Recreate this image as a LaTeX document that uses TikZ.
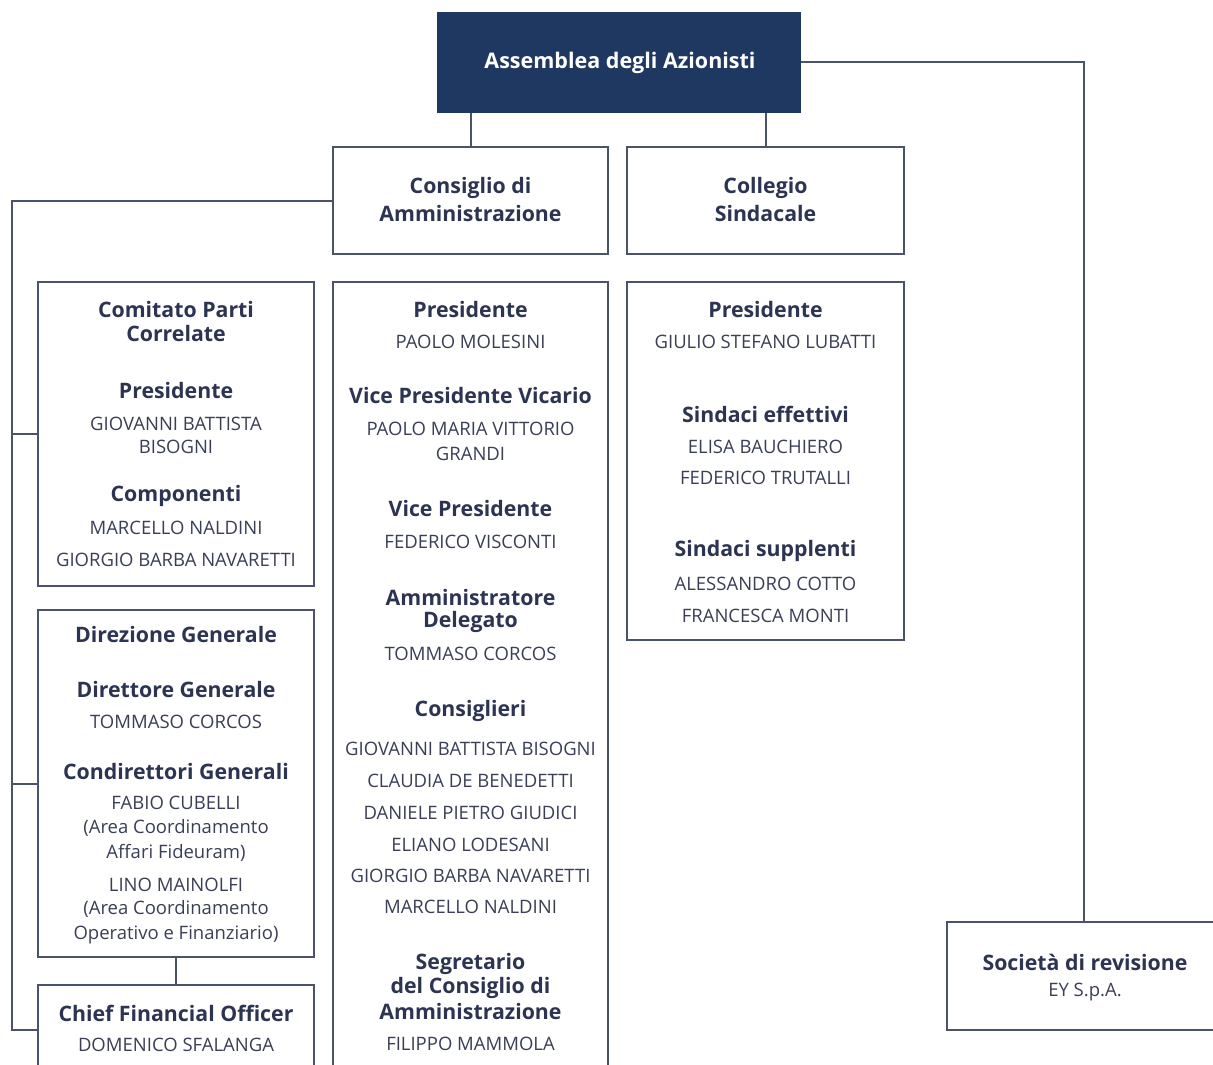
\documentclass[tikz,border=0pt]{standalone}
\usepackage{fontspec}
\setmainfont{Open Sans}
\definecolor{navy}{HTML}{1E3862}
\definecolor{linec}{HTML}{4C526B}
\definecolor{headc}{HTML}{2C3452}
\definecolor{namec}{HTML}{3A3F56}
\begin{document}
\begin{tikzpicture}[x=1pt,y=-1pt,
  box/.style={draw=linec,line width=2pt,fill=white,inner sep=0pt},
  conn/.style={draw=linec,line width=2pt},
  hd/.style={font=\bfseries\fontsize{21.3}{24}\selectfont,text=headc,inner sep=0pt,anchor=center},
  nm/.style={font=\fontsize{18.5}{21}\selectfont,text=namec,inner sep=0pt,anchor=center}]
\useasboundingbox[fill=white] (0,0) rectangle (1213,1065);
% boxes
\node[box,fill=navy,draw=navy,minimum width=362pt,minimum height=99pt] (assemblea) at (619,62.5) {};
\node[font=\bfseries\fontsize{21.5}{24}\selectfont,text=white,inner sep=0pt] (assT) at (620,63) {Assemblea degli Azionisti};
\node[box,minimum width=275pt,minimum height=107pt] (consiglio) at (470.5,200.5) {};
\node[box,minimum width=277pt,minimum height=107pt] (collegio) at (765.5,200.5) {};
\node[box,minimum width=276pt,minimum height=304pt] (comitato) at (176,434) {};
\node[box,minimum width=276pt,minimum height=347pt] (direzione) at (176,783.5) {};
\node[box,minimum width=276pt,minimum height=110pt] (cfo) at (176,1040) {};
\node[box,minimum width=275pt,minimum height=810pt] (cdamembri) at (470.5,687) {};
\node[box,minimum width=277pt,minimum height=358pt] (collmembri) at (765.5,461) {};
\node[box,minimum width=274pt,minimum height=108pt] (societa) at (1084,976) {};
% connectors
\coordinate (busBot) at (12,1030);
\draw[conn] (consiglio.north) -- (consiglio.north |- assemblea.south);
\draw[conn] (collegio.north) -- (collegio.north |- assemblea.south);
\draw[conn] (assemblea.east) -| (societa.north);
\draw[conn] (consiglio.west) -| (busBot) -- (cfo.west |- busBot);
\draw[conn] (busBot |- comitato.west) -- (comitato.west);
\draw[conn] (busBot |- direzione.west) -- (direzione.west);
\draw[conn] (direzione.south) -- (cfo.north);
% header texts
\node[hd] (t1) at (470.5,188) {Consiglio di};
\node[hd] (t2) at (470.5,214) {Amministrazione};
\node[hd] (t3) at (765.5,188) {Collegio};
\node[hd] (t4) at (765.5,214) {Sindacale};
% Comitato
\node[hd] (c1) at (176,310) {Comitato Parti};
\node[hd] (c2) at (176,334) {Correlate};
\node[hd] (c3) at (176,391) {Presidente};
\node[nm] (c4) at (176,424) {GIOVANNI BATTISTA};
\node[nm] (c5) at (176,447) {BISOGNI};
\node[hd] (c6) at (176,496) {Componenti};
\node[nm] (c7) at (176,528) {MARCELLO NALDINI};
\node[nm] (c8) at (176,560) {GIORGIO BARBA NAVARETTI};
% Direzione
\node[hd] (d1) at (176,635) {Direzione Generale};
\node[hd] (d2) at (176,690) {Direttore Generale};
\node[nm] (d3) at (176,722) {TOMMASO CORCOS};
\node[hd] (d4) at (176,772) {Condirettori Generali};
\node[nm] (d5) at (176,803) {FABIO CUBELLI};
\node[nm] (d6) at (176,828) {(Area Coordinamento};
\node[nm] (d7) at (176,853) {Affari Fideuram)};
\node[nm] (d8) at (176,885) {LINO MAINOLFI};
\node[nm] (d9) at (176,909) {(Area Coordinamento};
\node[nm] (d10) at (176,935) {Operativo e Finanziario)};
% CFO
\node[hd] (f1) at (176,1013) {Chief Financial Officer};
\node[nm] (f2) at (176,1045) {DOMENICO SFALANGA};
% CdA members
\node[hd] (m1) at (470.5,310) {Presidente};
\node[nm] (m2) at (470.5,342) {PAOLO MOLESINI};
\node[hd] (m3) at (470.5,396) {Vice Presidente Vicario};
\node[nm] (m4) at (470.5,429) {PAOLO MARIA VITTORIO};
\node[nm] (m5) at (470.5,454) {GRANDI};
\node[hd] (m6) at (470.5,509) {Vice Presidente};
\node[nm] (m7) at (470.5,542) {FEDERICO VISCONTI};
\node[hd] (m8) at (470.5,598) {Amministratore};
\node[hd] (m9) at (470.5,622) {Delegato};
\node[nm] (m10) at (470.5,654) {TOMMASO CORCOS};
\node[hd] (m11) at (470.5,711) {Consiglieri};
\node[nm] (m12) at (470.5,749) {GIOVANNI BATTISTA BISOGNI};
\node[nm] (m13) at (470.5,781) {CLAUDIA DE BENEDETTI};
\node[nm] (m14) at (470.5,813) {DANIELE PIETRO GIUDICI};
\node[nm] (m15) at (470.5,845) {ELIANO LODESANI};
\node[nm] (m16) at (470.5,876) {GIORGIO BARBA NAVARETTI};
\node[nm] (m17) at (470.5,907) {MARCELLO NALDINI};
\node[hd] (m18) at (470.5,964) {Segretario};
\node[hd] (m19) at (470.5,988) {del Consiglio di};
\node[hd] (m20) at (470.5,1012) {Amministrazione};
\node[nm] (m21) at (470.5,1044) {FILIPPO MAMMOLA};
% Collegio members
\node[hd] (s1) at (765.5,310) {Presidente};
\node[nm] (s2) at (765.5,342) {GIULIO STEFANO LUBATTI};
\node[hd] (s3) at (765.5,414) {Sindaci effettivi};
\node[nm] (s4) at (765.5,447) {ELISA BAUCHIERO};
\node[nm] (s5) at (765.5,478) {FEDERICO TRUTALLI};
\node[hd] (s6) at (765.5,551) {Sindaci supplenti};
\node[nm] (s7) at (765.5,584) {ALESSANDRO COTTO};
\node[nm] (s8) at (765.5,616) {FRANCESCA MONTI};
% Societa
\node[hd] (r1) at (1085,962) {Società di revisione};
\node[nm] (r2) at (1085,992) {EY S.p.A.};
\end{tikzpicture}
\end{document}
